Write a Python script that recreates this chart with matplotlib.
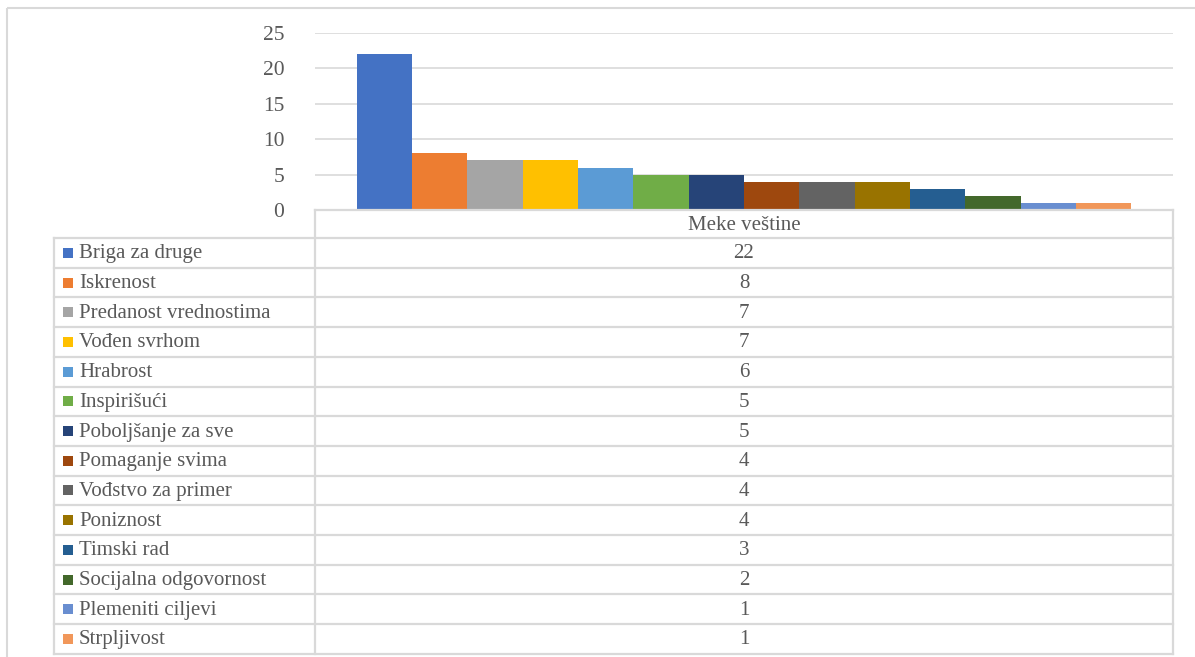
import matplotlib
matplotlib.use("Agg")
import matplotlib.pyplot as plt
from matplotlib.patches import Rectangle

categories = ["Briga za druge", "Iskrenost", "Predanost vrednostima", "Vođen svrhom",
              "Hrabrost", "Inspirišući", "Poboljšanje za sve", "Pomaganje svima",
              "Vođstvo za primer", "Poniznost", "Timski rad", "Socijalna odgovornost",
              "Plemeniti ciljevi", "Strpljivost"]
values = [22, 8, 7, 7, 6, 5, 5, 4, 4, 4, 3, 2, 1, 1]
group_label = "Meke veštine"
y_ticks = [0, 5, 10, 15, 20, 25]

colors = ["#4472C4", "#ED7D31", "#A5A5A5", "#FFC000", "#5B9BD5", "#70AD47", "#264478",
          "#9E480E", "#636363", "#997300", "#255E91", "#43682B", "#698ED0", "#F1975A"]

W, H = 1195, 657
plt.rcParams['font.family'] = ['Liberation Serif', 'DejaVu Serif']
TXT = "#595959"
GRID = "#D9D9D9"
FS = 15

fig = plt.figure(figsize=(W / 100, H / 100), dpi=100)

# plot area in pixels
PL, PR, PT, PB = 315, 1173, 33, 210
ax = fig.add_axes([PL / W, 1 - PB / H, (PR - PL) / W, (PB - PT) / H])
n = len(values)
group_frac = 0.903
bw = group_frac / n
start = 0.5 - group_frac / 2
xs = [start + (i + 0.5) * bw for i in range(n)]
ax.bar(xs, values, width=bw, color=colors, zorder=3)
ax.set_xlim(0, 1)
ax.set_ylim(0, 25)
ax.set_yticks(y_ticks)
ax.set_yticklabels([str(t) for t in y_ticks], fontsize=15.5, color=TXT)
ax.tick_params(axis='y', length=0, pad=22)
ax.set_xticks([])
for t in y_ticks[1:]:
    ax.axhline(t, color=GRID, lw=1.2, zorder=1)
for s in ax.spines.values():
    s.set_visible(False)

# overlay in pixel coords
ov = fig.add_axes([0, 0, 1, 1], zorder=5)
ov.set_xlim(0, W)
ov.set_ylim(H, 0)
ov.axis('off')
ov.patch.set_alpha(0)

# outer border
ov.add_patch(Rectangle((7, 8), 1250, 700, fill=False, ec=GRID, lw=1.5))

# table
TL = 54
hdr_top = PB
row_top = 238
rh = 29.7
bottom = row_top + n * rh
lw = 1.6
ov.plot([PL, PR], [hdr_top, hdr_top], color=GRID, lw=lw)
ov.plot([PL, PL], [hdr_top, bottom], color=GRID, lw=lw)
ov.plot([PR, PR], [hdr_top, bottom], color=GRID, lw=lw)
ov.plot([TL, TL], [row_top, bottom], color=GRID, lw=lw)
for i in range(n + 1):
    y = row_top + i * rh
    ov.plot([TL, PR], [y, y], color=GRID, lw=lw)
cx = (PL + PR) / 2
ov.text(cx, (hdr_top + row_top) / 2 + 1, group_label, ha='center', va='center',
        fontsize=FS, color=TXT)
for i, (c, v, col) in enumerate(zip(categories, values, colors)):
    yc = row_top + (i + 0.5) * rh
    ov.add_patch(Rectangle((63, yc - 5), 10, 10, color=col, lw=0))
    ov.text(79, yc + 1, c, ha='left', va='center', fontsize=FS, color=TXT)
    ov.text(cx, yc + 1, str(v), ha='center', va='center', fontsize=FS, color=TXT)

fig.savefig("out.png", dpi=100)
